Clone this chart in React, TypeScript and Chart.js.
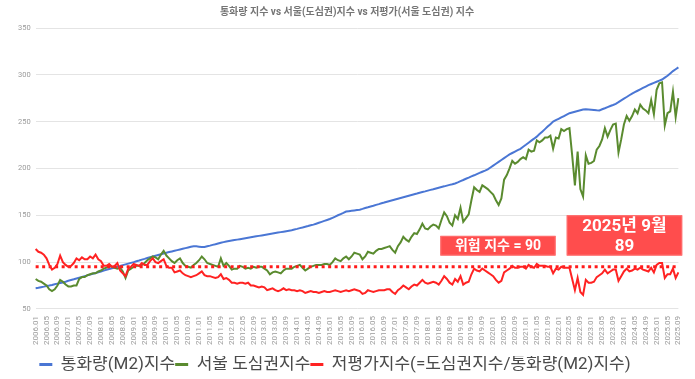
import React, { useEffect, useRef } from "react";
import { Chart, registerables } from "chart.js";

Chart.register(...registerables);

const TITLE = "통화량 지수 vs 서울(도심권)지수 vs 저평가(서울 도심권) 지수";
const SERIES_NAMES = ["통화량(M2)지수", "서울 도심권지수", "저평가지수(=도심권지수/통화량(M2)지수)"];
const START_YEAR = 2006;

// 통화량(M2) 지수, monthly 2006.01 – 2025.09
const m2Index = [
  72, 72.5, 73.2, 73.8, 74.5, 75, 75.6, 76.3, 77, 77.6, 78.3, 79.1,
  80, 80.8, 81.6, 82.5, 83.3, 84.1, 85, 85.8, 86.6, 87.4, 88.3, 89.1,
  90, 90.9, 91.8, 92.6, 93.4, 94.3, 95.1, 95.9, 96.8, 97.6, 98.4, 99.2,
  100, 100.9, 101.7, 102.6, 103.4, 104.3, 105.1, 105.9, 106.8, 107.6, 108.4, 109.2,
  110, 110.7, 111.4, 112.1, 112.8, 113.5, 114.2, 114.9, 115.6, 116.3, 117, 116.8,
  116.4, 116, 116.2, 116.9, 117.6, 118.4, 119.1, 119.9, 120.6, 121.3, 122, 122.5,
  123, 123.5, 124, 124.5, 125, 125.5, 126, 126.5, 127, 127.5, 128, 128.5,
  129, 129.5, 130, 130.5, 131, 131.5, 132, 132.5, 133, 133.5, 134, 134.8,
  135.5, 136.3, 137, 137.8, 138.5, 139.3, 140, 141, 142, 143, 144, 145,
  146, 147.3, 148.6, 150, 151.3, 152.6, 154, 154.4, 154.8, 155.2, 155.6, 156,
  156.8, 157.7, 158.5, 159.4, 160.2, 161.1, 161.9, 162.8, 163.6, 164.5, 165.3, 166.1,
  166.9, 167.7, 168.5, 169.3, 170.1, 170.9, 171.7, 172.5, 173.2, 174, 174.8, 175.5,
  176.3, 177.1, 177.8, 178.6, 179.4, 180.2, 180.9, 181.7, 182.5, 183.2, 184, 185.2,
  186.5, 187.7, 189, 190.2, 191.5, 192.7, 194, 195.2, 196.5, 197.7, 199, 201,
  203, 205, 207, 209, 211, 213, 215, 216.5, 218, 219.5, 221, 223.2,
  225.3, 227.5, 229.7, 231.8, 234, 236.7, 239.3, 242, 244.7, 247.3, 250, 251.5,
  253, 254.5, 256, 257.5, 259, 259.8, 260.6, 261.4, 262.2, 263, 263.2, 263,
  262.8, 262.5, 262.2, 262, 263.2, 264.3, 265.5, 266.7, 267.8, 269, 270.8, 272.7,
  274.5, 276.3, 278.2, 280, 281.5, 283, 284.5, 286, 287.5, 289, 290.2, 291.4,
  292.6, 293.8, 295, 297, 299, 301.5, 304, 306, 308,
];

// 서울 도심권 지수
const seoulIndex = [
  82, 80, 79, 77, 75, 71, 69, 71, 75, 81, 79, 76,
  74, 74, 75, 75, 82, 84, 84, 86, 87, 88, 88, 90,
  91, 93, 94, 96, 95, 94, 93, 94, 90, 83, 91, 93,
  95, 96, 96, 97, 99, 102, 104, 106, 105, 103, 108, 112,
  107, 104, 101, 99, 102, 104, 99, 96, 95, 94, 97, 99,
  102, 106, 103, 99, 98, 97, 96, 95, 104, 96, 99, 96,
  92, 93, 93, 96, 95, 93, 94, 93, 95, 94, 95, 95,
  93, 91, 87, 89, 90, 89, 88, 91, 93, 93, 93, 95,
  96, 97, 94, 91, 93, 95, 96, 97, 97, 97, 98, 98,
  97, 100, 104, 102, 101, 104, 106, 103, 106, 110, 109, 108,
  103, 106, 111, 110, 109, 112, 114, 114, 115, 116, 117, 113,
  110, 117, 121, 127, 124, 122, 127, 131, 130, 135, 141, 136,
  135, 138, 140, 139, 136, 145, 153, 149, 142, 139, 150, 146,
  158, 143, 147, 151, 166, 180, 177, 175, 182, 180, 178, 175,
  172, 166, 161, 168, 188, 193, 200, 208, 205, 207, 210, 212,
  210, 220, 218, 219, 230, 228, 230, 233, 233, 235, 221, 233,
  232, 242, 240, 242, 243, 214, 182, 218, 178, 170, 214, 205,
  206, 208, 220, 224, 231, 243, 234, 241, 247, 248, 217, 231,
  247, 256, 251, 256, 263, 259, 268, 264, 262, 259, 273, 258,
  284, 291, 292, 246, 259, 261, 282, 255, 275,
];

// 저평가 지수
const undervalueIndex = [
  114, 111, 110, 108, 104, 97, 92, 94, 98, 107, 100, 97,
  95, 96, 99, 104, 102, 105, 103, 103, 106, 104, 108, 103,
  101, 96, 96, 98, 95, 96, 99, 91, 88, 85, 93, 95,
  98, 97, 96, 99, 97, 97, 101, 104, 100, 99, 101, 103,
  96, 94, 94, 89, 90, 91, 88, 86, 85, 84, 85, 86,
  88, 90, 86, 85, 85, 84, 83, 84, 87, 82, 83, 81,
  78, 78, 77, 78, 78, 77, 78, 75, 75, 74, 73, 74,
  73, 70, 71, 72, 70, 69, 70, 72, 70, 71, 70, 70,
  69, 70, 69, 67, 68, 69, 68, 68, 67, 68, 69, 68,
  68, 69, 70, 69, 68, 69, 70, 69, 70, 71, 70, 69,
  66, 67, 70, 69, 68, 69, 70, 70, 70, 71, 71, 68,
  66, 70, 72, 75, 73, 71, 74, 76, 75, 78, 81, 78,
  77, 78, 79, 78, 76, 80, 85, 82, 78, 76, 82, 79,
  85, 76, 78, 79, 87, 93, 91, 90, 93, 91, 89, 87,
  85, 81, 78, 80, 89, 91, 93, 96, 94, 94, 95, 95,
  93, 97, 95, 94, 98, 96, 96, 96, 95, 95, 88, 93,
  92, 95, 94, 94, 94, 82, 70, 83, 68, 65, 81, 78,
  78, 79, 84, 86, 88, 92, 88, 90, 92, 92, 80, 85,
  90, 93, 90, 91, 93, 92, 94, 92, 91, 90, 94, 89,
  97, 99, 99, 83, 87, 87, 93, 83, 89,
];

// dotted threshold line as it sits on the axis
const riskLine = 95;
const riskLabel = "위험 지수 = 90";
const latestLabel = ["2025년 9월", "89"];

const months: string[] = [];
for (let i = 0; i < m2Index.length; i++) {
  const y = START_YEAR + Math.floor(i / 12);
  const m = (i % 12) + 1;
  months.push(`${y}.${m < 10 ? "0" + m : m}`);
}

const FONT = "Roboto, 'Noto Sans CJK KR', sans-serif";

const boxPlugin = {
  id: "annotBoxes",
  afterLayout(chart: any) {
    const lg = chart.legend;
    if (lg) {
      lg.left -= 12;
      lg.right -= 12;
      lg.top += 4;
      lg.bottom += 4;
    }
  },
  afterDatasetsDraw(chart: any) {
    const { ctx } = chart;
    const xs = chart.scales.x;
    const ys = chart.scales.y;
    const draw = (i0: number, i1: number, v0: number, v1: number, lines: string[], size: number, gap: number) => {
      const x0 = xs.getPixelForValue(i0);
      const x1 = xs.getPixelForValue(i1);
      const y0 = ys.getPixelForValue(v0);
      const y1 = ys.getPixelForValue(v1);
      ctx.save();
      ctx.fillStyle = "#ff4d4d";
      ctx.fillRect(x0, y0, x1 - x0, y1 - y0);
      ctx.strokeStyle = "#ff7070";
      ctx.lineWidth = 1;
      ctx.strokeRect(x0 + 0.5, y0 + 0.5, x1 - x0 - 1, y1 - y0 - 1);
      ctx.fillStyle = "#ffffff";
      ctx.font = `bold ${size}px ${FONT}`;
      ctx.textAlign = "center";
      ctx.textBaseline = "middle";
      const cx = (x0 + x1) / 2;
      const cy = (y0 + y1) / 2;
      const start = cy - ((lines.length - 1) * gap) / 2;
      lines.forEach((t, k) => ctx.fillText(t, cx, start + k * gap + 1));
      ctx.restore();
    };
    draw(148.6, 190.9, 128, 107, [riskLabel], 14, 0);
    draw(195, 237.4, 150, 107, latestLabel, 17, 20);
  },
};

export default function App() {
  const ref = useRef<HTMLCanvasElement>(null);
  useEffect(() => {
    document.body.style.margin = "0";
    const chart = new Chart(ref.current!, {
      type: "line",
      data: {
        labels: months,
        datasets: [
          { label: SERIES_NAMES[0], data: m2Index, borderColor: "#4a76d4", backgroundColor: "#4a76d4", borderWidth: 2, pointRadius: 0, order: 4 },
          { label: SERIES_NAMES[1], data: seoulIndex, borderColor: "#5a8b2f", backgroundColor: "#5a8b2f", borderWidth: 2, pointRadius: 0, order: 3 },
          { label: SERIES_NAMES[2], data: undervalueIndex, borderColor: "#ff2222", backgroundColor: "#ff2222", borderWidth: 2, pointRadius: 0, order: 1 },
          { label: "risk", data: months.map(() => riskLine), borderColor: "#ff1a1a", backgroundColor: "#ff1a1a", borderWidth: 3, borderDash: [3, 3.5], pointRadius: 0, order: 2 },
        ],
      },
      options: {
        responsive: false,
        animation: false,
        layout: { padding: { left: 13, right: 14, top: 0, bottom: 0 } },
        plugins: {
          title: {
            display: true,
            text: TITLE,
            color: "#757575",
            font: { family: FONT, size: 10, weight: "bold" },
            padding: { top: 6, bottom: 10 },
          },
          legend: {
            position: "bottom",
            labels: {
              color: "#4a4a4a",
              font: { family: FONT, size: 17 },
              boxWidth: 13,
              boxHeight: 3,
              padding: 0,
              sort: (a: any, b: any) => a.datasetIndex - b.datasetIndex,
              generateLabels: (ch: any) =>
                Chart.defaults.plugins.legend.labels
                  .generateLabels(ch)
                  .filter((l: any) => l.datasetIndex !== 3)
                  .map((l: any) => ({ ...l, lineWidth: 0, lineDash: [], fillStyle: l.strokeStyle })),
            },
          },
          tooltip: { enabled: false },
        },
        scales: {
          x: {
            grid: { display: false, drawTicks: false },
            border: { display: false },
            ticks: {
              autoSkip: false,
              maxRotation: 90,
              minRotation: 90,
              padding: 7,
              color: "#9a9a9a",
              font: { family: FONT, size: 8 },
              callback: (_v: any, i: number) => (i % 4 === 0 ? months[i] : ""),
            },
          },
          y: {
            min: 50,
            max: 350,
            grid: { color: "#e4e4e4", drawTicks: false },
            border: { display: false },
            ticks: { stepSize: 50, padding: 5, color: "#9a9a9a", font: { family: FONT, size: 7.5 } },
          },
        },
      },
      plugins: [boxPlugin],
    });
    return () => chart.destroy();
  }, []);
  return (
    <div style={{ width: 695, height: 379 }}>
      <canvas ref={ref} width={695} height={379} />
    </div>
  );
}
